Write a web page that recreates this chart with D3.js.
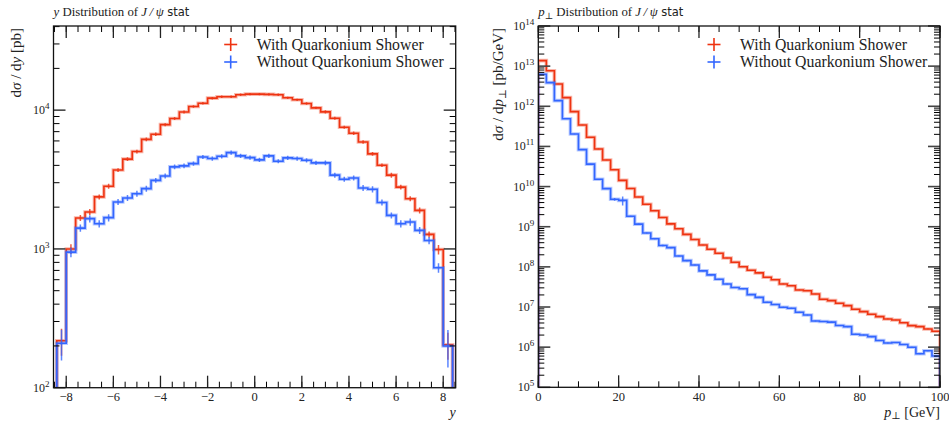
<!DOCTYPE html>
<html><head><meta charset="utf-8">
<script src="https://cdn.jsdelivr.net/npm/d3@7"></script>
<style>
body{margin:0;background:#fff}
svg{display:block}
text{font-family:"Liberation Serif","DejaVu Serif",serif;fill:#222}
</style>
</head><body>
<svg id="c" width="949" height="421"></svg>
<script>
// ---------------- data: rapidity distribution ----------------
const yEdges = [-8.4,-8.0,-7.6,-7.2,-6.8,-6.4,-6.0,-5.6,-5.2,-4.8,-4.4,-4.0,-3.6,-3.2,-2.8,-2.4,-2.0,-1.6,-1.2,-0.8,-0.4,0.0,0.4,0.8,1.2,1.6,2.0,2.4,2.8,3.2,3.6,4.0,4.4,4.8,5.2,5.6,6.0,6.4,6.8,7.2,7.6,8.0,8.4];
const yWith = [218,1000,1670,1845,2370,2830,3700,4440,5030,6160,6710,7860,8710,9700,10630,11220,12200,12480,12480,12900,13050,13050,13000,12900,12270,11870,11170,10390,9720,8750,7530,6820,5900,4840,4010,3400,2790,2300,1897,1273,990,204];
const yWithout = [209,948,1413,1652,1520,1680,2180,2330,2500,2720,3120,3355,3900,3965,4120,4600,4480,4650,4945,4680,4550,4380,4680,4285,4530,4480,4355,4170,4170,3400,3180,3245,2750,2690,2160,1745,1520,1563,1360,1150,731,200];
const yWithErr = [0.22,0.08,0.05,0.05,0.04,0.04,0.03,0.03,0.03,0.03,0.03,0.025,0.025,0.025,0.02,0.02,0.02,0.02,0.02,0.02,0.02,0.02,0.02,0.02,0.02,0.02,0.02,0.02,0.025,0.025,0.025,0.03,0.03,0.03,0.03,0.04,0.04,0.04,0.05,0.05,0.08,0.22];
const yWithoutErr = [0.25,0.08,0.06,0.06,0.06,0.06,0.05,0.05,0.05,0.05,0.04,0.04,0.04,0.04,0.035,0.035,0.035,0.035,0.035,0.035,0.035,0.035,0.035,0.035,0.035,0.035,0.035,0.035,0.04,0.04,0.04,0.04,0.05,0.05,0.05,0.05,0.06,0.06,0.06,0.06,0.08,0.3];
const yXTicks = [-8,-6,-4,-2,0,2,4,6,8];
const yXTickLabels = ["\u22128","\u22126","\u22124","\u22122","0","2","4","6","8"];
const yYTicks = [1e2,1e3,1e4];
const yYTickExps = ["2","3","4"];

// ---------------- data: pT distribution ----------------
const ptEdges = [0,2,4,6,8,10,12,14,16,18,20,22,24,26,28,30,32,34,36,38,40,42,44,46,48,50,52,54,56,58,60,62,64,66,68,70,72,74,76,78,80,82,84,86,88,90,92,94,96,98,100];
const ptWith = [1.37e13,7.71e12,3.59e12,1.64e12,7.35e11,3.42e11,1.69e11,8.65e10,4.60e10,2.63e10,1.43e10,8.95e9,5.50e9,3.63e9,2.51e9,1.70e9,1.175e9,8.91e8,6.46e8,4.79e8,3.51e8,2.75e8,2.18e8,1.66e8,1.30e8,1.01e8,8.22e7,7.08e7,5.50e7,4.79e7,3.75e7,3.39e7,2.66e7,2.55e7,2.11e7,1.56e7,1.44e7,1.24e7,1.08e7,8.79e6,7.66e6,6.59e6,5.75e6,5.04e6,4.75e6,4.07e6,3.44e6,3.24e6,2.84e6,2.49e6];
const ptWithout = [6.27e12,3.88e12,1.38e12,4.91e11,2.04e11,8.32e10,3.63e10,1.52e10,8.91e9,4.82e9,4.52e9,1.82e9,1.16e9,7.00e8,5.01e8,3.41e8,3.02e8,1.86e8,1.43e8,1.11e8,7.94e7,6.31e7,4.91e7,3.75e7,3.07e7,2.84e7,2.04e7,1.74e7,1.31e7,1.15e7,9.84e6,9.33e6,7.41e6,6.31e6,4.47e6,4.37e6,4.21e6,3.47e6,3.24e6,2.09e6,2.00e6,1.83e6,1.46e6,1.27e6,1.31e6,1.16e6,9.93e5,6.84e5,8.13e5,6.04e5];
const ptWithErr = [0.02,0.02,0.02,0.02,0.02,0.02,0.02,0.02,0.02,0.02,0.02,0.02,0.02,0.02,0.02,0.02,0.02,0.02,0.02,0.02,0.02,0.02,0.02,0.02,0.02,0.02,0.02,0.02,0.02,0.02,0.02,0.02,0.02,0.02,0.02,0.02,0.02,0.02,0.02,0.02,0.02,0.02,0.02,0.02,0.02,0.02,0.02,0.02,0.02,0.02];
const ptWithoutErr = [0.02,0.02,0.02,0.02,0.02,0.02,0.02,0.02,0.03,0.08,0.25,0.03,0.03,0.03,0.03,0.05,0.03,0.03,0.03,0.03,0.03,0.03,0.03,0.03,0.03,0.03,0.03,0.03,0.03,0.03,0.03,0.03,0.03,0.03,0.03,0.03,0.03,0.03,0.03,0.03,0.03,0.03,0.03,0.03,0.03,0.03,0.03,0.03,0.03,0.03];
const ptXTicks = [0,20,40,60,80,100];
const ptXTickLabels = ["0","20","40","60","80","100"];
const ptYTicks = [1e5,1e6,1e7,1e8,1e9,1e10,1e11,1e12,1e13,1e14];
const ptYTickExps = ["5","6","7","8","9","10","11","12","13","14"];

const legendLabels = ["With Quarkonium Shower","Without Quarkonium Shower"];
const RED = "#ee3311", BLUE = "#3366ff";

const svg = d3.select("#c");

function panel(cfg, idx){
  const x = d3.scaleLinear().domain(cfg.xDomain).range([cfg.L, cfg.R]);
  const y = d3.scaleLog().domain(cfg.yDomain).range([cfg.B, cfg.T]);
  const g = svg.append("g");
  const cid = "clip"+idx;
  g.append("clipPath").attr("id",cid).append("rect")
    .attr("x",cfg.L).attr("y",cfg.T).attr("width",cfg.R-cfg.L).attr("height",cfg.B-cfg.T);

  const line = d3.line();
  const data = g.append("g").attr("clip-path",`url(#${cid})`);
  cfg.series.forEach(s=>{
    const pts = [[x(cfg.edges[0]), cfg.B+2]];
    s.vals.forEach((v,i)=>{
      pts.push([x(cfg.edges[i]), y(v)]);
      pts.push([x(cfg.edges[i+1]), y(v)]);
    });
    pts.push([x(cfg.edges[cfg.edges.length-1]), cfg.B+2]);
    data.append("path").attr("d",line(pts)).attr("fill","none")
      .attr("stroke",s.color).attr("stroke-opacity",0.35).attr("stroke-width",3.6);
    data.append("path").attr("d",line(pts)).attr("fill","none")
      .attr("stroke",s.color).attr("stroke-width",1.6);
    data.selectAll(null).data(s.vals).enter().append("line")
      .attr("x1",(v,i)=>x((cfg.edges[i]+cfg.edges[i+1])/2))
      .attr("x2",(v,i)=>x((cfg.edges[i]+cfg.edges[i+1])/2))
      .attr("y1",(v,i)=>y(v*(1+s.errs[i])))
      .attr("y2",(v,i)=>y(Math.max(v*(1-s.errs[i]),1e-9)))
      .attr("stroke",s.color).attr("stroke-width",1.5).attr("stroke-opacity",0.8);
  });

  const tk = g.append("g");
  const majLen = 12, minLen = 6;
  cfg.xMinor.forEach(t=>{
    const px = x(t);
    tk.append("line").attr("x1",px).attr("x2",px).attr("y1",cfg.B).attr("y2",cfg.B-minLen).attr("stroke","#000").attr("stroke-width",1);
    tk.append("line").attr("x1",px).attr("x2",px).attr("y1",cfg.T).attr("y2",cfg.T+minLen).attr("stroke","#000").attr("stroke-width",1);
  });
  cfg.xTicks.forEach(t=>{
    const px = x(t);
    tk.append("line").attr("x1",px).attr("x2",px).attr("y1",cfg.B).attr("y2",cfg.B-majLen).attr("stroke","#222").attr("stroke-width",1.3);
    tk.append("line").attr("x1",px).attr("x2",px).attr("y1",cfg.T).attr("y2",cfg.T+majLen).attr("stroke","#222").attr("stroke-width",1.3);
  });
  const [ylo, yhi] = cfg.yDomain;
  for(let e=Math.floor(Math.log10(ylo)); e<=Math.ceil(Math.log10(yhi)); e++){
    for(let m=2;m<=9;m++){
      const v = m*Math.pow(10,e);
      if(v<ylo||v>yhi) continue;
      const py = y(v);
      tk.append("line").attr("x1",cfg.L).attr("x2",cfg.L+minLen).attr("y1",py).attr("y2",py).attr("stroke","#000").attr("stroke-width",1);
      tk.append("line").attr("x1",cfg.R).attr("x2",cfg.R-minLen).attr("y1",py).attr("y2",py).attr("stroke","#000").attr("stroke-width",1);
    }
  }
  cfg.yTicks.forEach(t=>{
    const py = y(t);
    tk.append("line").attr("x1",cfg.L).attr("x2",cfg.L+majLen).attr("y1",py).attr("y2",py).attr("stroke","#444").attr("stroke-width",1.6);
    tk.append("line").attr("x1",cfg.R).attr("x2",cfg.R-majLen).attr("y1",py).attr("y2",py).attr("stroke","#444").attr("stroke-width",1.6);
  });

  g.append("rect").attr("x",cfg.L).attr("y",cfg.T).attr("width",cfg.R-cfg.L).attr("height",cfg.B-cfg.T)
    .attr("fill","none").attr("stroke","#111").attr("stroke-width",1.3);

  cfg.xTicks.forEach((t,i)=>{
    g.append("text").attr("x",x(t)).attr("y",cfg.B+13.5).attr("text-anchor","middle")
      .attr("font-size",12.5).text(cfg.xTickLabels[i]);
  });
  cfg.yTicks.forEach((t,i)=>{
    const tx = g.append("text").attr("x",cfg.L-4).attr("y",y(t)+4).attr("text-anchor","end").attr("font-size",12);
    tx.append("tspan").text("10");
    tx.append("tspan").attr("dy",-5).attr("font-size",9).text(cfg.yTickExps[i]);
  });

  cfg.title(g.append("text").attr("x",cfg.L).attr("y",16).attr("font-size",12.8));
  cfg.ylabel(g.append("text").attr("transform",`translate(${cfg.ylabX},${cfg.T+2}) rotate(-90)`)
    .attr("text-anchor","end").attr("font-size",15));
  cfg.xlabel(g.append("text").attr("x",cfg.R).attr("y",416.5).attr("text-anchor","end").attr("font-size",14));

  cfg.series.forEach((s,i)=>{
    const cy = 44.5 + i*17.5;
    const lx = cfg.legX;
    g.append("line").attr("x1",lx-6.5).attr("x2",lx+6.5).attr("y1",cy).attr("y2",cy).attr("stroke",s.color).attr("stroke-width",1.6);
    g.append("line").attr("x1",lx).attr("x2",lx).attr("y1",cy-6.5).attr("y2",cy+6.5).attr("stroke",s.color).attr("stroke-width",1.6);
    g.append("text").attr("x",lx+26).attr("y",cy+5).attr("font-size",15.8).text(legendLabels[i]);
  });
}

function rangeStep(a,b,s){ return d3.range(a,b+1e-9,s); }

panel({
  L:53.5,R:455.7,T:26,B:387.7,
  xDomain:[-8.54,8.53], yDomain:[100,40400],
  edges:yEdges,
  series:[{vals:yWith,errs:yWithErr,color:RED},{vals:yWithout,errs:yWithoutErr,color:BLUE}],
  xTicks:yXTicks, xTickLabels:yXTickLabels, xMinor:rangeStep(-8.5,8.5,0.5),
  yTicks:yYTicks, yTickExps:yYTickExps,
  ylabX:21, legX:230.7,
  title:t=>{ t.append("tspan").attr("font-style","italic").text("y");
             t.append("tspan").text(" Distribution of ");
             t.append("tspan").attr("font-style","italic").text("J\u2009/\u2009\u03c8");
             t.append("tspan").attr("font-family","'DejaVu Sans',sans-serif").attr("font-size",11.5).text(" stat"); },
  ylabel:t=>{ t.append("tspan").text("d");
              t.append("tspan").attr("font-style","italic").text("\u03c3");
              t.append("tspan").text(" / d");
              t.append("tspan").attr("font-style","italic").text("y");
              t.append("tspan").text(" [pb]"); },
  xlabel:t=>{ t.append("tspan").attr("font-style","italic").text("y"); }
},0);

panel({
  L:538.3,R:940,T:26,B:387.3,
  xDomain:[0,100], yDomain:[1e5,1e14],
  edges:ptEdges,
  series:[{vals:ptWith,errs:ptWithErr,color:RED},{vals:ptWithout,errs:ptWithoutErr,color:BLUE}],
  xTicks:ptXTicks, xTickLabels:ptXTickLabels, xMinor:rangeStep(0,100,5),
  yTicks:ptYTicks, yTickExps:ptYTickExps,
  ylabX:503, legX:714,
  title:t=>{ t.append("tspan").attr("font-style","italic").text("p");
             t.append("tspan").attr("font-size",9).attr("dy",2.5).text("\u22a5");
             t.append("tspan").attr("dy",-2.5).text(" Distribution of ");
             t.append("tspan").attr("font-style","italic").text("J\u2009/\u2009\u03c8");
             t.append("tspan").attr("font-family","'DejaVu Sans',sans-serif").attr("font-size",11.5).text(" stat"); },
  ylabel:t=>{ t.append("tspan").text("d");
              t.append("tspan").attr("font-style","italic").text("\u03c3");
              t.append("tspan").text(" / d");
              t.append("tspan").attr("font-style","italic").text("p");
              t.append("tspan").attr("font-size",10.5).attr("dy",3).text("\u22a5");
              t.append("tspan").attr("dy",-3).text(" [pb/GeV]"); },
  xlabel:t=>{ t.append("tspan").attr("font-style","italic").text("p");
              t.append("tspan").attr("font-size",10).attr("dy",2.5).text("\u22a5");
              t.append("tspan").attr("dy",-2.5).text(" [GeV]"); }
},1);
</script>
</body></html>
